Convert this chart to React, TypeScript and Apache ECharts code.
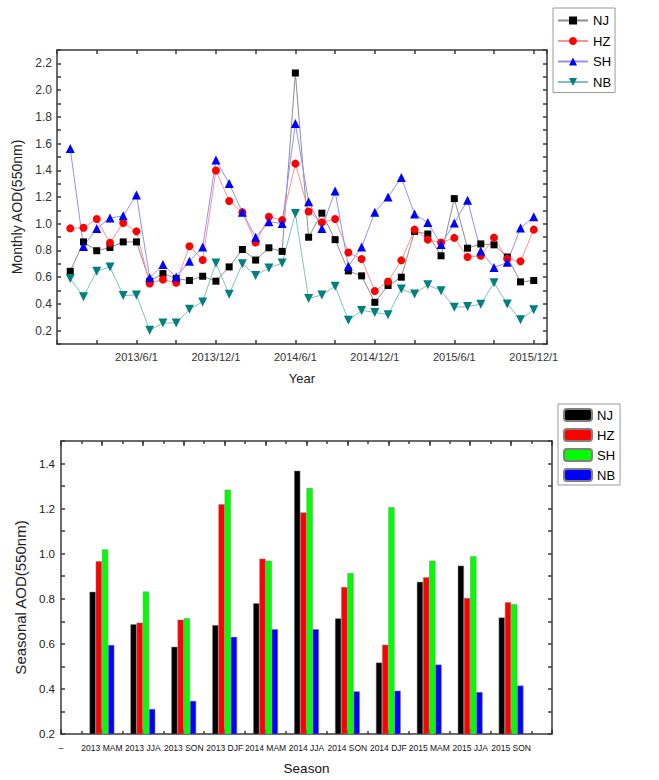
import React, { useEffect, useRef } from 'react';
import * as echarts from 'echarts';

// ---------- Monthly data (2013/1 .. 2015/12) ----------
const seriesNames = ['NJ', 'HZ', 'SH', 'NB'];
const njMonthly = [0.644, 0.864, 0.798, 0.822, 0.864, 0.864, 0.57, 0.627, 0.59, 0.575, 0.607, 0.57, 0.677, 0.807, 0.728, 0.82, 0.793, 2.128, 0.899, 1.079, 0.881, 0.647, 0.61, 0.412, 0.538, 0.6, 0.943, 0.923, 0.76, 1.188, 0.817, 0.849, 0.842, 0.751, 0.565, 0.575];
const hzMonthly = [0.965, 0.97, 1.035, 0.857, 1.005, 0.943, 0.553, 0.583, 0.558, 0.832, 0.728, 1.398, 1.17, 1.086, 0.859, 1.052, 1.027, 1.45, 1.091, 1.01, 1.035, 0.785, 0.736, 0.496, 0.568, 0.726, 0.956, 0.881, 0.859, 0.894, 0.751, 0.76, 0.896, 0.738, 0.719, 0.956];
const shMonthly = [1.563, 0.83, 0.965, 1.042, 1.059, 1.215, 0.595, 0.694, 0.602, 0.719, 0.825, 1.476, 1.301, 1.086, 0.899, 1.015, 1.002, 1.75, 1.165, 0.965, 1.244, 0.681, 0.825, 1.086, 1.2, 1.346, 1.072, 1.01, 0.844, 1.005, 1.175, 0.795, 0.672, 0.711, 0.968, 1.052];
const nbMonthly = [0.59, 0.454, 0.644, 0.677, 0.462, 0.467, 0.202, 0.257, 0.257, 0.36, 0.415, 0.706, 0.472, 0.701, 0.612, 0.669, 0.706, 1.076, 0.44, 0.467, 0.533, 0.277, 0.351, 0.336, 0.319, 0.511, 0.474, 0.543, 0.499, 0.375, 0.38, 0.398, 0.558, 0.4, 0.281, 0.356];
// x positions: months since 2012/12/1
const xTickValues = [6, 12, 18, 24, 30, 36];
const xTickLabels = ['2013/6/1', '2013/12/1', '2014/6/1', '2014/12/1', '2015/6/1', '2015/12/1'];

// ---------- Seasonal data ----------
const seasonCats = ['–', '2013 MAM', '2013 JJA', '2013 SON', '2013 DJF', '2014 MAM', '2014 JJA', '2014 SON', '2014 DJF', '2015 MAM', '2015 JJA', '2015 SON', ''];
const njSeasonal = [0.831, 0.687, 0.587, 0.683, 0.78, 1.368, 0.713, 0.517, 0.875, 0.947, 0.717];
const hzSeasonal = [0.966, 0.694, 0.707, 1.219, 0.978, 1.183, 0.852, 0.596, 0.895, 0.803, 0.785];
const shSeasonal = [1.019, 0.832, 0.714, 1.284, 0.969, 1.291, 0.914, 1.206, 0.969, 0.989, 0.776];
const nbSeasonal = [0.595, 0.311, 0.347, 0.631, 0.665, 0.665, 0.389, 0.392, 0.508, 0.386, 0.415];

const SANS = "'Liberation Sans', Arial, sans-serif";
const axisLine = { color: '#3a3a3a', width: 1.5 };

function topOption(): any {
  const monthly = [njMonthly, hzMonthly, shMonthly, nbMonthly];
  const markerColors = ['#000000', '#ff0000', '#0000ff', '#008080'];
  const lineColors = ['#8c8c8c', '#ff9090', '#9090ff', '#80c0c0'];
  const symbols = ['rect', 'circle', 'triangle', 'triangle'];
  const sizes = [7, 8, 9, 9];
  const rotates = [0, 0, 0, 180];
  const xFmt = (v: number) => {
    const i = xTickValues.indexOf(Math.round(v));
    return i >= 0 && Math.abs(v - Math.round(v)) < 1e-6 ? xTickLabels[i] : '';
  };
  const yFmt = (v: number) => (Math.round(v * 10) % 2 === 0 ? v.toFixed(1) : '');
  const xBase = {
    type: 'value', min: 0, max: 37, interval: 3,
    axisLine: { show: true, onZero: false, lineStyle: axisLine },
    axisTick: { show: true, inside: true, length: 4, lineStyle: axisLine },
    splitLine: { show: false },
  };
  const yBase = {
    type: 'value', min: 0.1, max: 2.3, interval: 0.1,
    axisLine: { show: true, onZero: false, lineStyle: axisLine },
    axisTick: { show: true, inside: true, length: 4, lineStyle: axisLine },
    splitLine: { show: false },
  };
  return {
    animation: false,
    backgroundColor: '#ffffff',
    grid: { left: 57, top: 50, width: 490, height: 298 },
    legend: {
      orient: 'vertical', left: 553, top: 8,
      itemWidth: 30, itemHeight: 10, itemGap: 7.5,
      padding: [6, 4, 4, 4],
      borderColor: '#9a9a9a', borderWidth: 1,
      textStyle: { fontFamily: SANS, fontSize: 13, color: '#000' },
      data: seriesNames,
    },
    xAxis: [
      {
        ...xBase, position: 'bottom',
        axisLabel: { formatter: xFmt, fontFamily: SANS, fontSize: 11, color: '#333', margin: 7 },
        name: 'Year', nameLocation: 'middle', nameGap: 28,
        nameTextStyle: { fontFamily: SANS, fontSize: 13, color: '#222' },
      },
      { ...xBase, position: 'top', axisLabel: { show: false } },
    ],
    yAxis: [
      {
        ...yBase, position: 'left',
        axisLabel: { formatter: yFmt, fontFamily: SANS, fontSize: 12, color: '#333', margin: 5 },
        name: 'Monthly AOD(550nm)', nameLocation: 'middle', nameGap: 29,
        nameTextStyle: { fontFamily: SANS, fontSize: 14, color: '#222', padding: [0, 20, 0, 0] },
      },
      { ...yBase, position: 'right', axisLabel: { show: false } },
    ],
    series: seriesNames.map((name, k) => ({
      name, type: 'line', xAxisIndex: 0, yAxisIndex: 0,
      data: monthly[k].map((v, i) => [i + 1, v]),
      symbol: symbols[k], symbolSize: sizes[k], symbolRotate: rotates[k],
      showAllSymbol: true,
      itemStyle: { color: markerColors[k] },
      lineStyle: { color: lineColors[k], width: 1 },
    })),
  };
}

function bottomOption(): any {
  const seasonal = [njSeasonal, hzSeasonal, shSeasonal, nbSeasonal];
  const colors = ['#000000', '#ff0000', '#00ff00', '#0000ff'];
  const yFmt = (v: number) => (Math.round(v * 10) % 2 === 0 ? v.toFixed(1) : '');
  const catBase = {
    type: 'category', data: seasonCats, boundaryGap: false,
    axisLine: { show: true, onZero: false, lineStyle: axisLine },
    axisTick: { show: true, inside: true, length: 5, interval: 0, lineStyle: axisLine },
    splitLine: { show: false },
  };
  const minorBase = {
    type: 'value', min: 0, max: 12, interval: 0.5,
    axisLine: { show: false },
    axisTick: { show: true, inside: true, length: 3, lineStyle: axisLine },
    axisLabel: { show: false },
    splitLine: { show: false },
  };
  const yBase = {
    type: 'value', min: 0.2, max: 1.5, interval: 0.1,
    axisLine: { show: true, onZero: false, lineStyle: axisLine },
    axisTick: { show: true, inside: true, length: 4, lineStyle: axisLine },
    splitLine: { show: false },
  };
  return {
    animation: false,
    backgroundColor: '#ffffff',
    grid: { left: 61, top: 51, width: 491, height: 301 },
    legend: {
      orient: 'vertical', left: 558, top: 14,
      itemWidth: 28, itemHeight: 12, itemGap: 6,
      padding: [4, 5, 3, 5],
      borderColor: '#9a9a9a', borderWidth: 1,
      textStyle: { fontFamily: SANS, fontSize: 13, color: '#000' },
      data: seriesNames,
    },
    xAxis: [
      {
        ...catBase, position: 'bottom',
        axisLabel: { interval: 0, fontFamily: SANS, fontSize: 8.5, color: '#111', margin: 9 },
        name: 'Season', nameLocation: 'middle', nameGap: 27,
        nameTextStyle: { fontFamily: SANS, fontSize: 13.5, color: '#111' },
      },
      { ...catBase, position: 'top', axisLabel: { show: false } },
      { ...minorBase, position: 'bottom' },
      { ...minorBase, position: 'top' },
    ],
    yAxis: [
      {
        ...yBase, position: 'left',
        axisLabel: { formatter: yFmt, fontFamily: SANS, fontSize: 11.5, color: '#222', margin: 6 },
        name: 'Seasonal AOD(550nm)', nameLocation: 'middle', nameGap: 30,
        nameTextStyle: { fontFamily: SANS, fontSize: 15, color: '#222', padding: [0, 20, 0, 0] },
      },
      { ...yBase, position: 'right', axisLabel: { show: false } },
    ],
    series: seriesNames.map((name, k) => ({
      name, type: 'bar', xAxisIndex: 0, yAxisIndex: 0,
      data: [null, ...seasonal[k], null],
      barWidth: 6.2, barGap: '0%',
      itemStyle: { color: colors[k], borderColor: '#808080', borderWidth: 0.5 },
    })),
  };
}

export default function App() {
  const topRef = useRef<HTMLDivElement>(null);
  const botRef = useRef<HTMLDivElement>(null);
  useEffect(() => {
    const c1 = echarts.init(topRef.current as HTMLDivElement, null, { renderer: 'svg' });
    const c2 = echarts.init(botRef.current as HTMLDivElement, null, { renderer: 'svg' });
    c1.setOption(topOption());
    c2.setOption(bottomOption());
    return () => {
      c1.dispose();
      c2.dispose();
    };
  }, []);
  return (
    <div style={{ position: 'absolute', left: 0, top: 0, width: 659, height: 780, background: '#fff' }}>
      <div ref={topRef} style={{ position: 'absolute', left: 0, top: 0, width: 659, height: 390 }} />
      <div ref={botRef} style={{ position: 'absolute', left: 0, top: 390, width: 659, height: 390 }} />
    </div>
  );
}
